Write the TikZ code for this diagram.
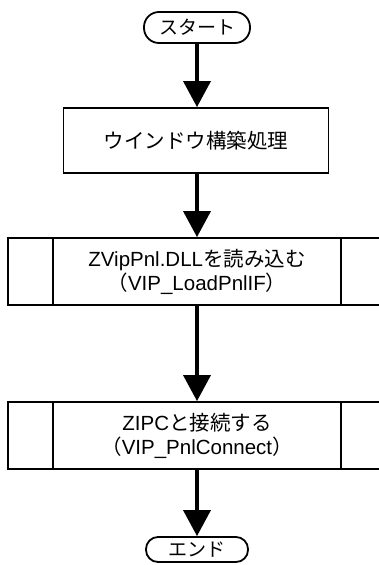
\documentclass[tikz,border=0pt]{standalone}
\usepackage{fontspec}
\setmainfont{Liberation Sans}
\newfontfamily\jp{Noto Sans CJK JP}
\usetikzlibrary{arrows.meta,calc}
\tikzset{
  box/.style={draw, line width=1.8pt, fill=white, inner sep=0pt, align=center,
    font=\fontsize{20.5}{24}\selectfont},
  procbox/.style={box, minimum width=265pt, minimum height=65pt},
  predef/.style={box, minimum width=378pt, minimum height=67pt},
  term/.style={box, rounded corners=15pt, minimum width=106pt, minimum height=31pt,
    font=\fontsize{19}{22}\selectfont},
  arr/.style={line width=3.6pt, -{Triangle[width=27pt,length=26pt]}},
  inner/.style={line width=1.8pt}
}
\begin{document}
\begin{tikzpicture}[x=1pt,y=-1pt]
\useasboundingbox (0,0) rectangle (379,565);
\node[term] (s) at (197,27.5) {\jp スタート};
\node[procbox] (b1) at (196,140.5) {\jp ウインドウ構築処理};
\node[predef] (b2) at (197,271.5) {ZVipPnl.DLL{\jp を読み込む}\\{\jp （}VIP\_LoadPnlIF{\jp ）}};
\node[predef] (b3) at (197,435.5) {ZIPC{\jp と接続する}\\{\jp （}VIP\_PnlConnect{\jp ）}};
\node[term, minimum height=25pt, minimum width=102pt, rounded corners=12pt] (e) at (197,549.5) {\jp エンド};
\draw[inner] ($(b2.north west)+(46,0)$) -- ($(b2.south west)+(46,0)$);
\draw[inner] ($(b2.north east)+(-46,0)$) -- ($(b2.south east)+(-46,0)$);
\draw[inner] ($(b3.north west)+(46,0)$) -- ($(b3.south west)+(46,0)$);
\draw[inner] ($(b3.north east)+(-46,0)$) -- ($(b3.south east)+(-46,0)$);
\draw[arr] (s.south) -- (s.south |- b1.north);
\draw[arr] (b1.south -| s.south) -- (s.south |- b2.north);
\draw[arr] (b2.south) -- (b3.north);
\draw[arr] (b3.south) -- (e.north);
\end{tikzpicture}
\end{document}
